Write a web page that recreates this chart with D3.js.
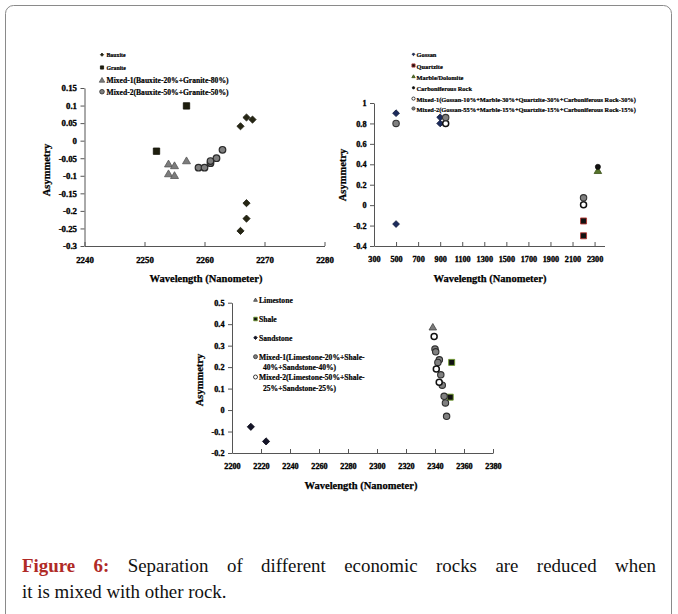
<!DOCTYPE html>
<html>
<head>
<meta charset="utf-8">
<script src="https://cdn.jsdelivr.net/npm/d3@7/dist/d3.min.js"></script>
<style>
  html, body { margin: 0; padding: 0; background: #fff; }
  svg { display: block; }
  text { font-family: "Liberation Serif", "DejaVu Serif", serif; }
</style>
</head>
<body>
<svg id="fig" width="678" height="614"></svg>
<script>
// ---------- Panel A: Bauxite / Granite ----------
const xTicksA = [2240, 2250, 2260, 2270, 2280];
const yTicksA = [0.15, 0.1, 0.05, 0, -0.05, -0.1, -0.15, -0.2, -0.25, -0.3];
const yLabelsA = ["0.15", "0.1", "0.05", "0", "-0.05", "-0.1", "-0.15", "-0.2", "-0.25", "-0.3"];
const seriesNamesA = ["Bauxite", "Granite", "Mixed-1(Bauxite-20%+Granite-80%)", "Mixed-2(Bauxite-50%+Granite-50%)"];
const bauxite = [[2266, 0.041], [2267, 0.066], [2268, 0.060], [2267, -0.178], [2267, -0.222], [2266, -0.257]];
const granite = [[2257, 0.099], [2252, -0.030]];
const mixedA1 = [[2254, -0.067], [2255, -0.072], [2254, -0.095], [2255, -0.100], [2257, -0.058]];
const mixedA2 = [[2259, -0.077], [2260, -0.077], [2261, -0.064], [2261, -0.058], [2262, -0.050], [2263, -0.026]];

// ---------- Panel B: Gossan / Quartzite / Marble / Carboniferous ----------
const xTicksB = [300, 500, 700, 900, 1100, 1300, 1500, 1700, 1900, 2100, 2300];
const yTicksB = [1, 0.8, 0.6, 0.4, 0.2, 0, -0.2, -0.4];
const yLabelsB = ["1", "0.8", "0.6", "0.4", "0.2", "0", "-0.2", "-0.4"];
const seriesNamesB = ["Gossan", "Quartzite", "Marble/Dolomite", "Carboniferous Rock",
  "Mixed-1(Gossan-10%+Marble-30%+Quartzite-30%+Carboniferous Rock-30%)",
  "Mixed-2(Gossan-55%+Marble-15%+Quartzite-15%+Carboniferous Rock-15%)"];
const gossan = [[500, 0.90], [500, -0.185], [900, 0.86], [900, 0.80]];
const quartzite = [[2200, -0.155], [2200, -0.30]];
const marble = [[2330, 0.335]];
const carboniferous = [[2330, 0.375]];
const mixedB1 = [[950, 0.80], [2200, 0.005]];
const mixedB2 = [[500, 0.80], [950, 0.857], [2200, 0.072]];

// ---------- Panel C: Limestone / Shale / Sandstone ----------
const xTicksC = [2200, 2220, 2240, 2260, 2280, 2300, 2320, 2340, 2360, 2380];
const yTicksC = [0.5, 0.4, 0.3, 0.2, 0.1, 0, -0.1, -0.2];
const yLabelsC = ["0.5", "0.4", "0.3", "0.2", "0.1", "0", "-0.1", "-0.2"];
const seriesNamesC = ["Limestone", "Shale", "Sandstone",
  ["Mixed-1(Limestone-20%+Shale-", "40%+Sandstone-40%)"],
  ["Mixed-2(Limestone-50%+Shale-", "25%+Sandstone-25%)"]];
const limestone = [[2338.5, 0.385]];
const shale = [[2351.5, 0.222], [2350.5, 0.060]];
const sandstone = [[2213, -0.078], [2223.5, -0.146]];
const mixedC1 = [[2340, 0.284], [2340.5, 0.271], [2343, 0.234], [2342, 0.222], [2344, 0.164],
  [2345, 0.116], [2346.3, 0.064], [2347.2, 0.033], [2348, -0.029]];
const mixedC2 = [[2339.4, 0.343], [2340.9, 0.191], [2342.9, 0.129]];

const captionBold = "Figure 6:";
const captionLine1 = "Separation of different economic rocks are reduced when";
const captionLine2 = "it is mixed with other rock.";

// ---------- marker shapes ----------
function markerPath(shape, r) {
  switch (shape) {
    case "diamond": return `M0,${-r}L${r},0L0,${r}L${-r},0Z`;
    case "square": return `M${-r},${-r}H${r}V${r}H${-r}Z`;
    case "triangle": {
      const h = r * 1.8;
      return `M0,${-h * 0.6}L${r * 1.05},${h * 0.4}L${-r * 1.05},${h * 0.4}Z`;
    }
    default: {
      const p = d3.path(); p.arc(0, 0, r, 0, 2 * Math.PI); return p.toString();
    }
  }
}

const svg = d3.select("#fig");

// outer frame of the figure box
svg.append("rect")
  .attr("x", 5.5).attr("y", 5.5).attr("width", 666).attr("height", 720)
  .attr("rx", 8).attr("fill", "none").attr("stroke", "#8a8a8a").attr("stroke-width", 1);

// heavy bold text used for ticks, titles and legends
function heavy(sel, size, sw) {
  return sel.attr("font-size", size).attr("font-weight", "bold").attr("fill", "#000")
    .attr("stroke", "#000").attr("stroke-width", sw).attr("paint-order", "stroke")
    .style("font-family", '"Liberation Serif", serif');
}

function drawPanel(cfg) {
  const g = svg.append("g");
  const x = d3.scaleLinear().domain(cfg.xDomain).range(cfg.xRange);
  const y = d3.scaleLinear().domain(cfg.yDomain).range(cfg.yRange);
  const axisY = cfg.yRange[0];
  const axisX = cfg.xRange[0];

  // x axis: line + inward ticks
  const xa = g.append("g").attr("transform", `translate(0,${axisY})`)
    .call(d3.axisBottom(x).tickValues(cfg.xTicks).tickSizeInner(-4).tickSizeOuter(0).tickFormat(d3.format("d")));
  xa.select(".domain").attr("stroke", "#555");
  xa.selectAll(".tick line").attr("stroke", "#555");
  heavy(xa.selectAll(".tick text").attr("y", 10).attr("dy", "0.75em"), cfg.tickFont, 0.35);

  // y axis: line + outward ticks
  const ya = g.append("g").attr("transform", `translate(${axisX},0)`)
    .call(d3.axisLeft(y).tickValues(cfg.yTicks).tickSizeInner(4).tickSizeOuter(0)
      .tickFormat((d, i) => cfg.yLabels[i]));
  ya.select(".domain").attr("stroke", "#555");
  ya.selectAll(".tick line").attr("stroke", "#555");
  heavy(ya.selectAll(".tick text").attr("x", -7.5), cfg.tickFont, 0.35);

  // axis titles
  heavy(g.append("text").attr("x", cfg.xTitle[0]).attr("y", cfg.xTitle[1])
    .attr("text-anchor", "middle").attr("dominant-baseline", "central"), 10.5, 0.25)
    .text("Wavelength (Nanometer)");
  heavy(g.append("text").attr("transform", `translate(${cfg.yTitle[0]},${cfg.yTitle[1]}) rotate(-90)`)
    .attr("text-anchor", "middle").attr("dominant-baseline", "central"), 10.5, 0.25)
    .text("Asymmetry");

  // data markers
  cfg.series.forEach(s => {
    g.append("g").selectAll("path").data(s.data).join("path")
      .attr("transform", d => `translate(${x(d[0])},${y(d[1])})`)
      .attr("d", markerPath(s.shape, s.r))
      .attr("fill", s.fill).attr("stroke", s.stroke).attr("stroke-width", s.sw);
  });

  // legend
  const lg = g.append("g");
  cfg.series.forEach((s, i) => {
    const ly = cfg.legendY[i];
    lg.append("path").attr("transform", `translate(${cfg.legendX},${ly})`)
      .attr("d", markerPath(s.shape, s.lr))
      .attr("fill", s.fill).attr("stroke", s.stroke).attr("stroke-width", Math.min(s.sw, 0.8));
    const lines = Array.isArray(s.name) ? s.name : [s.name];
    const t = heavy(lg.append("text").attr("x", cfg.legendX + cfg.legendGap).attr("y", ly)
      .attr("dominant-baseline", "central"), s.lf || cfg.legendFont, 0.2);
    lines.forEach((ln, k) => {
      t.append("tspan").attr("x", cfg.legendX + cfg.legendGap + (k > 0 ? 4 : 0))
        .attr("dy", k === 0 ? 0 : cfg.legendLineGap).text(ln);
    });
  });
}

drawPanel({
  xDomain: [2240, 2280], xRange: [84.5, 324.5],
  yDomain: [-0.3, 0.15], yRange: [246, 88],
  xTicks: xTicksA, yTicks: yTicksA, yLabels: yLabelsA, tickFont: 8.8,
  xTitle: [206, 278], yTitle: [46, 170],
  legendX: 102, legendGap: 4.5, legendFont: 7.6, legendY: [54.7, 67.5, 80.3, 91.7],
  series: [
    { name: seriesNamesA[0], data: bauxite, shape: "diamond", r: 3.6, lr: 1.6, fill: "#262614", stroke: "#1a1a0c", sw: 0.8, lf: 5.8 },
    { name: seriesNamesA[1], data: granite, shape: "square", r: 3.2, lr: 1.6, fill: "#1e1e0e", stroke: "#14140a", sw: 0.8, lf: 5.8 },
    { name: seriesNamesA[2], data: mixedA1, shape: "triangle", r: 3.8, lr: 2.6, fill: "#7c7c7c", stroke: "#555", sw: 0.8 },
    { name: seriesNamesA[3], data: mixedA2, shape: "circle", r: 3.3, lr: 2.3, fill: "#7f7f7f", stroke: "#2a2a2a", sw: 1.2 }
  ]
});

drawPanel({
  xDomain: [300, 2390], xRange: [374, 604.5],
  yDomain: [-0.4, 1], yRange: [246, 103],
  xTicks: xTicksB, yTicks: yTicksB, yLabels: yLabelsB, tickFont: 8.2,
  xTitle: [490, 278], yTitle: [342, 175],
  legendX: 413.5, legendGap: 3, legendFont: 6.4, legendY: [54.3, 65.5, 76.5, 87.8, 98.6, 108.5],
  series: [
    { name: seriesNamesB[0], data: gossan, shape: "diamond", r: 3.4, lr: 1.4, fill: "#1c2b5c", stroke: "#10193a", sw: 0.8 },
    { name: seriesNamesB[1], data: quartzite, shape: "square", r: 3.0, lr: 1.6, fill: "#111", stroke: "#b53a36", sw: 0.9 },
    { name: seriesNamesB[2], data: marble, shape: "triangle", r: 3.6, lr: 1.6, fill: "#55732a", stroke: "#3b5219", sw: 0.8 },
    { name: seriesNamesB[3], data: carboniferous, shape: "circle", r: 2.6, lr: 1.2, fill: "#111", stroke: "#000", sw: 0.6 },
    { name: seriesNamesB[4], data: mixedB1, shape: "circle", r: 3.0, lr: 1.6, fill: "#fff", stroke: "#111", sw: 1.5 },
    { name: seriesNamesB[5], data: mixedB2, shape: "circle", r: 3.2, lr: 1.6, fill: "#808080", stroke: "#333", sw: 1.1 }
  ]
});

drawPanel({
  xDomain: [2200, 2380], xRange: [232, 493],
  yDomain: [-0.2, 0.5], yRange: [453, 302.7],
  xTicks: xTicksC, yTicks: yTicksC, yLabels: yLabelsC, tickFont: 8.2,
  xTitle: [361, 485], yTitle: [199, 380],
  legendX: 255.5, legendGap: 3.5, legendFont: 7.6, legendLineGap: 10.5,
  legendY: [300, 319, 337.7, 356.7, 377],
  series: [
    { name: seriesNamesC[0], data: limestone, shape: "triangle", r: 3.6, lr: 1.8, fill: "#7a7a7a", stroke: "#444", sw: 0.8 },
    { name: seriesNamesC[1], data: shale, shape: "square", r: 3.0, lr: 1.8, fill: "#111", stroke: "#6f9a2e", sw: 0.9 },
    { name: seriesNamesC[2], data: sandstone, shape: "diamond", r: 3.6, lr: 1.8, fill: "#141428", stroke: "#0a0a18", sw: 0.8 },
    { name: seriesNamesC[3], data: mixedC1, shape: "circle", r: 3.2, lr: 2.0, fill: "#808080", stroke: "#2e2e2e", sw: 1.1 },
    { name: seriesNamesC[4], data: mixedC2, shape: "circle", r: 3.0, lr: 2.0, fill: "#fff", stroke: "#111", sw: 1.5 }
  ]
});

// caption: first line justified between x=22 and x=656 by placing each word
const cap = svg.append("g").style("font-family", '"Liberation Serif", "DejaVu Serif", serif');
const capSize = 18;
const capStretch = 1.05;   // slightly wider letterforms
const words = [
  ...captionBold.split(" ").map(w => ({ w, bold: true })),
  ...captionLine1.split(" ").map(w => ({ w, bold: false }))
];
const wordNodes = words.map(d => cap.append("text").attr("font-size", capSize)
  .attr("font-weight", d.bold ? "bold" : "normal").attr("fill", d.bold ? "#b02a26" : "#111").text(d.w));
const widths = wordNodes.map(n => n.node().getComputedTextLength() * capStretch);
const gap = (634 - d3.sum(widths)) / (words.length - 1);
let cx = 22;
wordNodes.forEach((n, i) => {
  n.attr("transform", `translate(${cx},572) scale(${capStretch},1)`);
  cx += widths[i] + gap;
});
cap.append("text").attr("transform", `translate(22,598) scale(${capStretch},1)`)
  .attr("font-size", capSize).attr("fill", "#111").text(captionLine2);
</script>
</body>
</html>
